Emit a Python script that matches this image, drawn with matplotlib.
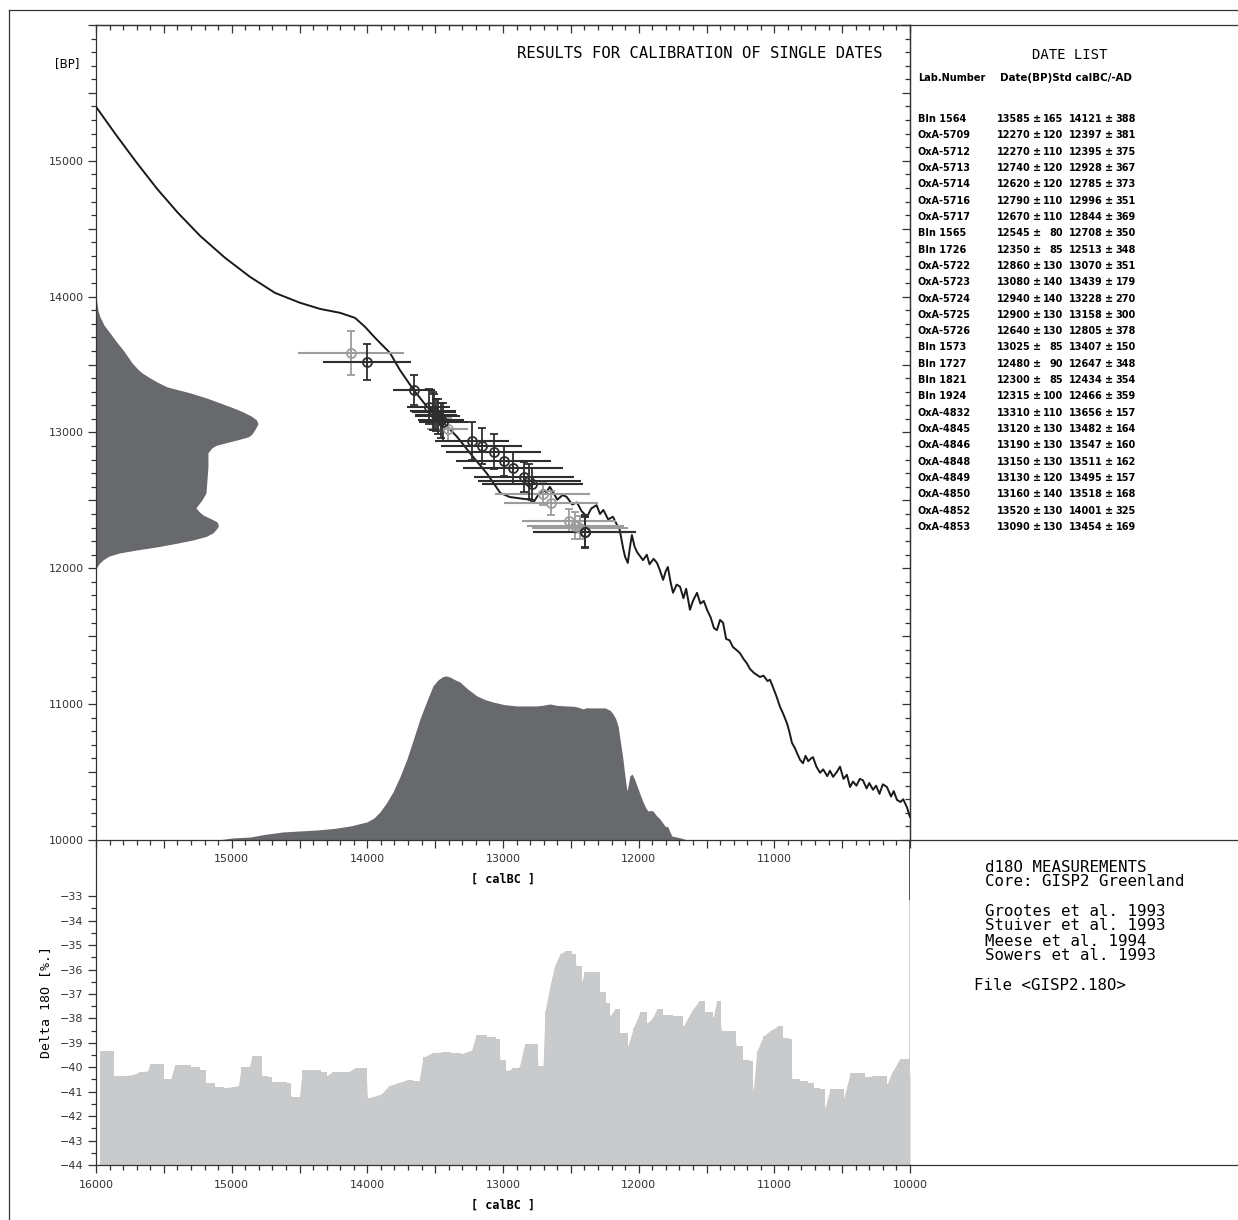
import matplotlib
matplotlib.use("Agg")
import matplotlib.pyplot as plt
from matplotlib.lines import Line2D
from matplotlib.ticker import MultipleLocator, FixedLocator, FuncFormatter

W, H = 1238, 1220
def fx(x): return x / W
def fy(y): return 1 - y / H

DARK = "#2e2e2e"; GREY = "#9c9c9c"; FILL = "#68696d"; D18 = "#c9cacc"; EDGE = "#333333"
MONO = "DejaVu Sans Mono"

# ---- calibration curve (calBC, BP) ----
curve_cal = [16000, 15853, 15705, 15550, 15396, 15233, 15049, 14865, 14681, 14496, 14349, 14201,
             14091, 14017, 13943, 13833, 13760, 13660, 13560, 13460, 13340,
             13220, 13120, 13020, 12950, 12800, 12780, 12740, 12705, 12680, 12655, 12630, 12600,
             12560, 12530, 12490, 12455, 12420, 12380, 12350, 12310, 12285, 12260, 12225, 12190,
             12160, 12140, 12115, 12100, 12080, 12065, 12050, 12030, 12012, 11990, 11968, 11940,
             11920, 11890, 11865, 11845, 11820, 11800, 11785, 11765, 11747, 11720, 11695, 11670,
             11650, 11622, 11600, 11570, 11545, 11520, 11496, 11470, 11445, 11423, 11400, 11378,
             11355, 11330, 11305, 11280, 11253, 11225, 11202, 11180, 11150, 11106, 11080, 11050,
             11032, 11010, 10985, 10958, 10935, 10907, 10890, 10870, 10850, 10833, 10810, 10789,
             10770, 10750, 10730, 10715, 10690, 10663, 10640, 10610, 10590, 10567, 10540, 10516,
             10490, 10465, 10442, 10420, 10395, 10370, 10347, 10320, 10300, 10273, 10250, 10225,
             10200, 10170, 10140, 10120, 10096, 10070, 10050, 10022, 10010, 10000]
curve_bp = [15398, 15192, 14993, 14794, 14617, 14448, 14286, 14146, 14028, 13955, 13910, 13881,
            13844, 13778, 13697, 13586, 13460, 13315, 13190, 13095, 12970,
            12820, 12700, 12555, 12525, 12505, 12480, 12540, 12580, 12560, 12600, 12560, 12505,
            12540, 12525, 12470, 12485, 12420, 12380, 12440, 12465, 12400, 12430, 12360, 12380,
            12320, 12285, 12150, 12085, 12040, 12150, 12245, 12160, 12120, 12090, 12060, 12100,
            12030, 12070, 12040, 11990, 11915, 11980, 12010, 11900, 11820, 11880, 11865, 11780,
            11850, 11695, 11760, 11820, 11740, 11760, 11695, 11640, 11560, 11545, 11620, 11600,
            11480, 11470, 11420, 11400, 11375, 11330, 11300, 11260, 11230, 11200, 11210, 11170,
            11180, 11125, 11060, 10980, 10930, 10860, 10800, 10715, 10680, 10640, 10590, 10565,
            10620, 10580, 10600, 10610, 10540, 10495, 10520, 10470, 10510, 10465, 10500, 10540,
            10450, 10480, 10390, 10430, 10400, 10450, 10440, 10380, 10420, 10370, 10400, 10340,
            10410, 10390, 10320, 10360, 10295, 10280, 10300, 10240, 10200, 10170]

# ---- summed radiocarbon probability (BP axis, relative) ----
c14_bp = [14000, 13960, 13900, 13851, 13790, 13733, 13670, 13608, 13560, 13513, 13470, 13439,
          13402, 13370, 13336, 13292, 13255, 13218, 13185, 13152, 13120, 13093, 13065, 13041,
          13010, 12985, 12968, 12945, 12924, 12905, 12887, 12865, 12850, 12747, 12651, 12555,
          12504, 12445, 12420, 12393, 12365, 12342, 12320, 12305, 12285, 12261, 12235, 12209,
          12185, 12158, 12135, 12114, 12090, 12062, 12035, 12010, 11990]
c14_prob = [0.0, 0.005, 0.012, 0.025, 0.05, 0.086, 0.125, 0.167, 0.195, 0.222, 0.255, 0.284,
            0.333, 0.38, 0.438, 0.58, 0.68, 0.765, 0.84, 0.907, 0.96, 0.99, 1.0, 0.99,
            0.975, 0.96, 0.94, 0.87, 0.80, 0.74, 0.716, 0.70, 0.691, 0.691, 0.685, 0.679,
            0.654, 0.617, 0.635, 0.66, 0.71, 0.747, 0.755, 0.753, 0.74, 0.722, 0.68, 0.599,
            0.5, 0.377, 0.25, 0.148, 0.08, 0.043, 0.02, 0.006, 0.0]

# ---- calibrated probability (calBC axis, relative) ----
cal_bc = [15100, 15000, 14865, 14750, 14622, 14500, 14371, 14250, 14128, 14003, 13950, 13907,
          13860, 13811, 13760, 13708, 13660, 13612, 13560, 13516, 13480, 13445, 13420, 13390,
          13350, 13317, 13260, 13192, 13130, 13074, 12990, 12897, 12750, 12700, 12654, 12600,
          12528, 12480, 12455, 12410, 12385, 12359, 12248, 12210, 12189, 12170, 12152, 12135,
          12116, 12100, 12086, 12078, 12065, 12049, 12030, 12012, 11990, 11968, 11950, 11932,
          11910, 11895, 11870, 11843, 11806, 11784, 11770, 11755, 11718, 11680, 11644]
cal_prob = [0.0, 0.012, 0.018, 0.035, 0.049, 0.055, 0.061, 0.07, 0.085, 0.110, 0.135, 0.171,
            0.225, 0.293, 0.385, 0.494, 0.615, 0.738, 0.85, 0.939, 0.975, 0.995, 1.0, 0.993,
            0.975, 0.963, 0.92, 0.878, 0.855, 0.841, 0.825, 0.817, 0.817, 0.822, 0.829, 0.82,
            0.817, 0.815, 0.811, 0.799, 0.806, 0.805, 0.805, 0.79, 0.768, 0.74, 0.695, 0.6,
            0.494, 0.38, 0.299, 0.33, 0.39, 0.402, 0.37, 0.329, 0.28, 0.232, 0.2, 0.177,
            0.18, 0.177, 0.15, 0.128, 0.085, 0.079, 0.05, 0.024, 0.018, 0.01, 0.0]

# ---- date list ----
labs = ["Bln 1564", "OxA-5709", "OxA-5712", "OxA-5713", "OxA-5714", "OxA-5716", "OxA-5717",
        "Bln 1565", "Bln 1726", "OxA-5722", "OxA-5723", "OxA-5724", "OxA-5725", "OxA-5726",
        "Bln 1573", "Bln 1727", "Bln 1821", "Bln 1924", "OxA-4832", "OxA-4845", "OxA-4846",
        "OxA-4848", "OxA-4849", "OxA-4850", "OxA-4852", "OxA-4853"]
date_bp = [13585, 12270, 12270, 12740, 12620, 12790, 12670, 12545, 12350, 12860, 13080, 12940,
           12900, 12640, 13025, 12480, 12300, 12315, 13310, 13120, 13190, 13150, 13130, 13160,
           13520, 13090]
date_sd = [165, 120, 110, 120, 120, 110, 110, 80, 85, 130, 140, 140, 130, 130, 85, 90, 85, 100,
           110, 130, 130, 130, 120, 140, 130, 130]
cal_mean = [14121, 12397, 12395, 12928, 12785, 12996, 12844, 12708, 12513, 13070, 13439, 13228,
            13158, 12805, 13407, 12647, 12434, 12466, 13656, 13482, 13547, 13511, 13495, 13518,
            14001, 13454]
cal_sd = [388, 381, 375, 367, 373, 351, 369, 350, 348, 351, 179, 270, 300, 378, 150, 348, 354,
          359, 157, 164, 160, 162, 157, 168, 325, 169]

# ---- d18O GISP2 ----
d18_bc = [15970, 15900, 15870, 15800, 15730, 15680, 15620, 15600, 15530, 15500, 15450, 15420,
          15360, 15300, 15230, 15190, 15120, 15060, 15000, 14950, 14930, 14870, 14850, 14800,
          14780, 14730, 14700, 14640, 14590, 14560, 14500, 14480, 14400, 14340, 14300, 14260,
          14200, 14140, 14090, 14010, 14000, 13960, 13900, 13840, 13780, 13710, 13660, 13620,
          13590, 13520, 13450, 13380, 13310, 13230, 13200, 13120, 13050, 13020, 12975, 12930,
          12880, 12840, 12760, 12740, 12705, 12690, 12655, 12620, 12580, 12545, 12495, 12460,
          12420, 12400, 12325, 12285, 12240, 12210, 12175, 12140, 12080, 12040, 11990, 11940,
          11900, 11865, 11820, 11745, 11670, 11610, 11555, 11510, 11450, 11425, 11390, 11300,
          11280, 11230, 11180, 11155, 11130, 11080, 11030, 10970, 10935, 10890, 10870, 10810,
          10750, 10710, 10660, 10625, 10590, 10515, 10490, 10440, 10370, 10330, 10280, 10210,
          10170, 10135, 10075, 10010, 10000]
d18_val = [-39.35, -39.35, -40.35, -40.35, -40.3, -40.2, -40.15, -39.85, -39.85, -40.5, -40.5,
           -39.9, -39.92, -39.98, -40.1, -40.65, -40.8, -40.85, -40.8, -40.75, -40.0, -40.0,
           -39.55, -39.55, -40.35, -40.4, -40.62, -40.62, -40.65, -41.2, -41.2, -40.12, -40.12,
           -40.2, -40.35, -40.2, -40.2, -40.18, -40.02, -40.02, -41.25, -41.2, -41.1, -40.75,
           -40.65, -40.52, -40.55, -40.6, -39.6, -39.4, -39.38, -39.42, -39.45, -39.3, -38.7,
           -38.75, -38.85, -39.7, -40.15, -40.05, -40.0, -39.03, -39.03, -39.95, -39.95, -37.7,
           -36.7, -35.85, -35.37, -35.25, -35.35, -35.85, -36.5, -36.12, -36.12, -36.9, -37.35,
           -37.9, -37.62, -38.6, -39.15, -38.4, -37.75, -38.2, -38.0, -37.6, -37.85, -37.9,
           -38.3, -37.7, -37.28, -37.75, -37.95, -37.28, -38.5, -38.52, -39.15, -39.7, -39.75,
           -41.0, -39.35, -38.72, -38.5, -38.3, -38.8, -38.85, -40.5, -40.57, -40.65, -40.85,
           -40.9, -41.65, -40.9, -40.9, -41.3, -40.22, -40.22, -40.4, -40.37, -40.37, -40.7,
           -40.22, -39.65, -39.65, -40.45]

plt.rcParams.update({"font.family": "DejaVu Sans", "font.size": 8,
                     "axes.edgecolor": EDGE, "axes.linewidth": 0.9,
                     "xtick.color": EDGE, "ytick.color": EDGE,
                     "xtick.major.width": 0.9, "ytick.major.width": 0.9,
                     "xtick.minor.width": 0.9, "ytick.minor.width": 0.9})

fig = plt.figure(figsize=(W / 100, H / 100), dpi=100)
L, R = fx(96), fx(910)
bx = fig.add_axes([L, fy(1165), R - L, fy(840) - fy(1165)])
ax = fig.add_axes([L, fy(840), R - L, fy(25) - fy(840)])
ax.set_zorder(3)

# ---------------- top panel ----------------
ax.set_xlim(16000, 10000); ax.set_ylim(10000, 16000)
ax.fill_betweenx(c14_bp, 16000, [16000 - p * 1194 for p in c14_prob], color=FILL, lw=0, zorder=1)
ax.fill_between(cal_bc, 10000, [10000 + p * 1208 for p in cal_prob], color=FILL, lw=0, zorder=1)
ax.plot(curve_cal, curve_bp, color="#1a1a1a", lw=1.4, zorder=3)

for grp, col in (("Bln", GREY), ("OxA", DARK)):
    idx = [i for i, l in enumerate(labs) if l.startswith(grp)]
    xs = [cal_mean[i] for i in idx]; ys = [date_bp[i] for i in idx]
    ax.errorbar(xs, ys, xerr=[cal_sd[i] for i in idx], fmt="none", ecolor=col, elinewidth=1.5, zorder=4)
    ax.errorbar(xs, ys, yerr=[date_sd[i] for i in idx], fmt="none", ecolor=col, elinewidth=1.3,
                capsize=3, capthick=1.3, zorder=4)
    ax.plot(xs, ys, "o", ms=6.5, mfc="none", mec=col, mew=1.3, zorder=5)
    ax.plot(xs, ys, "+", ms=6.5, mec=col, mew=1.1, zorder=5)

ax.xaxis.set_major_locator(MultipleLocator(500)); ax.xaxis.set_minor_locator(MultipleLocator(100))
ax.yaxis.set_major_locator(MultipleLocator(500)); ax.yaxis.set_minor_locator(MultipleLocator(100))
ax.xaxis.set_major_formatter(FuncFormatter(lambda v, _: f"{v:.0f}" if v % 1000 == 0 and 10000 < v < 16000 else ""))
ax.yaxis.set_major_formatter(FuncFormatter(lambda v, _: f"{v:.0f}" if v % 1000 == 0 and v < 16000 else ""))
ax.tick_params(which="major", direction="out", length=6, pad=3)
ax.tick_params(which="minor", direction="out", length=3.5)
ax.tick_params(axis="x", pad=4)
for side, loc in (("x", "top"), ("y", "right")):
    sec = ax.secondary_xaxis(loc) if side == "x" else ax.secondary_yaxis(loc)
    a = sec.xaxis if side == "x" else sec.yaxis
    a.set_major_locator(MultipleLocator(500)); a.set_minor_locator(MultipleLocator(100))
    sec.tick_params(which="major", direction="in", length=6, labelleft=False, labelright=False,
                    labeltop=False, labelbottom=False)
    sec.tick_params(which="minor", direction="in", length=3.5)
    for s in sec.spines.values(): s.set_color(EDGE)
ax.text(-0.02, 15714, "[BP]", transform=ax.get_yaxis_transform(), ha="right", va="center", fontsize=8.5)
fig.text(fx(883), fy(53), "RESULTS FOR CALIBRATION OF SINGLE DATES", ha="right", va="center",
         family=MONO, fontsize=11.2)
fig.text(fx(503), fy(879), "[ calBC ]", ha="center", va="center", family=MONO, fontsize=8.5,
         weight="bold")

# ---------------- lower panel ----------------
bx.set_xlim(16000, 10000); bx.set_ylim(-44, -30.7)
bx.fill_between(d18_bc, d18_val, -44, color=D18, lw=0)
bx.fill_between(d18_bc, d18_val, -44, step="post", color=D18, lw=0)
bx.xaxis.set_major_locator(MultipleLocator(500)); bx.xaxis.set_minor_locator(MultipleLocator(100))
bx.xaxis.set_major_formatter(FuncFormatter(lambda v, _: f"{v:.0f}" if v % 1000 == 0 else ""))
bx.yaxis.set_major_locator(FixedLocator(list(range(-44, -32))))
bx.yaxis.set_minor_locator(FixedLocator([v + 0.5 for v in range(-44, -33)]))
bx.tick_params(which="major", direction="out", length=6, pad=3)
bx.tick_params(which="minor", direction="out", length=3.5)
bx.tick_params(axis="x", pad=5)
bx.spines["top"].set_visible(False); bx.spines["right"].set_visible(False)
bx.axvline(10000, ymin=0, ymax=(-33.1 + 44) / 13.3, color=D18, lw=1.2)
bx.axvline(10000, ymin=(-33.1 + 44) / 13.3, ymax=1, color=EDGE, lw=1.2)
bx.set_ylabel("Delta 18O [%.]", family=MONO, fontsize=9.5, labelpad=6)
fig.text(fx(503), fy(1205), "[ calBC ]", ha="center", va="center", family=MONO, fontsize=8.5,
         weight="bold")

# ---------------- right-hand text ----------------
fig.text(fx(1070), fy(55), "DATE LIST", ha="center", va="center", family=MONO, fontsize=10)
fig.text(fx(918), fy(78), "Lab.Number", ha="left", va="center", fontsize=7, weight="bold")
fig.text(fx(1000), fy(78), "Date(BP)Std calBC/-AD", ha="left", va="center", fontsize=7.4, weight="bold")
for i, lab in enumerate(labs):
    y = fy(119 + i * 16.32)
    kw = dict(va="center", fontsize=7, weight="bold")
    fig.text(fx(918), y, lab, ha="left", **kw)
    fig.text(fx(1031), y, f"{date_bp[i]}", ha="right", **kw)
    fig.text(fx(1037), y, "±", ha="center", **kw)
    fig.text(fx(1063), y, f"{date_sd[i]}", ha="right", **kw)
    fig.text(fx(1103), y, f"{cal_mean[i]}", ha="right", **kw)
    fig.text(fx(1109), y, "±", ha="center", **kw)
    fig.text(fx(1136), y, f"{cal_sd[i]}", ha="right", **kw)

info = [(985, 867, "d18O MEASUREMENTS"), (985, 882, "Core: GISP2 Greenland"),
        (985, 911, "Grootes et al. 1993"), (985, 926, "Stuiver et al. 1993"),
        (985, 941, "Meese et al. 1994"), (985, 956, "Sowers et al. 1993"),
        (974, 985, "File <GISP2.18O>")]
for x, y, t in info:
    fig.text(fx(x), fy(y), t, ha="left", va="center", family=MONO, fontsize=11.3)

# ---------------- frame lines ----------------
for (x0, y0, x1, y1) in [(910, 25, W, 25), (910, 840, W, 840), (910, 1165, W, 1165),
                         (9, 10, W, 10), (9, 10, 9, H)]:
    fig.add_artist(Line2D([fx(x0), fx(x1)], [fy(y0), fy(y1)], color=EDGE, lw=0.9))

fig.savefig("out.png", dpi=100, facecolor="white")
